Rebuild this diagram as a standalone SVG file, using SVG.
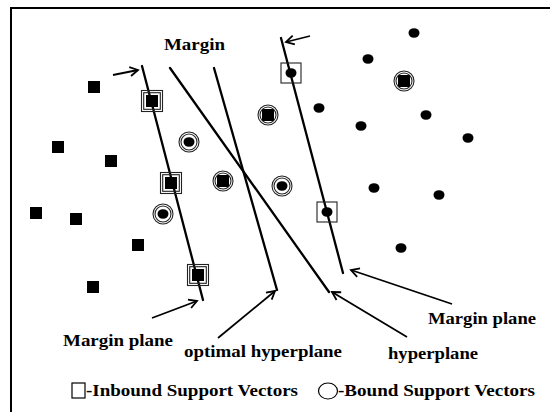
<svg xmlns="http://www.w3.org/2000/svg" width="550" height="412" viewBox="0 0 550 412">
<style>
.lbl{font-family:"Liberation Serif","Times New Roman",serif;font-weight:bold;font-size:16px;fill:#000}
.ln{stroke:#000;stroke-width:2.3;fill:none;stroke-linecap:round}
.ar{stroke:#000;stroke-width:1.8;fill:none;marker-end:url(#ah)}
.sq{fill:#000}
.bx{fill:none;stroke:#222;stroke-width:1.1}
.dot{fill:#000}
</style>
<defs>
<marker id="ah" markerWidth="12" markerHeight="12" refX="10" refY="6" orient="auto" markerUnits="userSpaceOnUse">
<path d="M2,1.5 L10,6 L2,10.5" fill="none" stroke="#000" stroke-width="1.8"/>
</marker>
<g id="fsq"><rect x="-6" y="-6" width="12" height="12"/></g>
<g id="fdot"><ellipse cx="0" cy="0" rx="5.5" ry="4.8"/></g>
<g id="dbox"><rect x="-10.5" y="-10.5" width="21" height="21" class="bx"/><rect x="-8.3" y="-8.3" width="16.6" height="16.6" class="bx"/></g>
<g id="sbox"><rect x="-10" y="-10" width="20" height="20" class="bx"/></g>
<g id="dcirc"><circle r="10" class="bx"/><circle r="8" class="bx"/></g>
</defs>
<rect width="550" height="412" fill="#fff"/>
<g id="frame" stroke="#000" stroke-width="2" fill="none">
<path d="M11,412 L11,8 L550,8"/>
</g>
<g id="connectors">
<line id="left-margin-plane" class="ln" x1="142" y1="66" x2="203" y2="300"/>
<line id="hyperplane" class="ln" x1="170" y1="68" x2="329" y2="292"/>
<line id="optimal-hyperplane" class="ln" x1="214" y1="68" x2="277" y2="290"/>
<line id="right-margin-plane" class="ln" x1="281" y1="38" x2="343" y2="273"/>
<line class="ar" x1="113" y1="75" x2="138" y2="70"/>
<line class="ar" x1="310" y1="36" x2="286" y2="42"/>
<line class="ar" x1="152" y1="318" x2="197" y2="301"/>
<line class="ar" x1="218" y1="338" x2="275" y2="291"/>
<line class="ar" x1="407" y1="337" x2="332" y2="292"/>
<line class="ar" x1="452" y1="304" x2="351" y2="270"/>
</g>
<g id="class-squares" class="sq">
<use href="#fsq" x="94" y="87"/>
<use href="#fsq" x="58" y="147"/>
<use href="#fsq" x="111" y="161"/>
<use href="#fsq" x="36" y="213"/>
<use href="#fsq" x="76" y="219"/>
<use href="#fsq" x="138" y="245"/>
<use href="#fsq" x="93" y="287"/>
</g>
<g id="inbound-squares">
<use href="#fsq" x="152" y="101"/><use href="#dbox" x="152" y="101"/>
<use href="#fsq" x="171" y="183"/><use href="#dbox" x="171" y="183"/>
<use href="#fsq" x="198" y="275"/><use href="#dbox" x="198" y="275"/>
</g>
<g id="bound-squares">
<use href="#fsq" x="223" y="181"/><use href="#dcirc" x="223" y="181"/>
<use href="#fsq" x="268" y="115"/><use href="#dcirc" x="268" y="115"/>
<use href="#fsq" x="404" y="81"/><use href="#dcirc" x="404" y="81"/>
</g>
<g id="bound-dots">
<use href="#fdot" x="189" y="142"/><use href="#dcirc" x="189" y="142"/>
<use href="#fdot" x="163" y="214"/><use href="#dcirc" x="163" y="214"/>
<use href="#fdot" x="282" y="186"/><use href="#dcirc" x="282" y="186"/>
</g>
<g id="inbound-dots">
<use href="#fdot" x="291" y="73"/><use href="#sbox" x="291" y="73"/>
<use href="#fdot" x="327" y="212"/><use href="#sbox" x="327" y="212"/>
</g>
<g id="class-dots">
<use href="#fdot" x="414" y="33"/>
<use href="#fdot" x="368" y="59"/>
<use href="#fdot" x="319" y="108"/>
<use href="#fdot" x="426" y="115"/>
<use href="#fdot" x="361" y="126"/>
<use href="#fdot" x="468" y="138"/>
<use href="#fdot" x="374" y="188"/>
<use href="#fdot" x="439" y="195"/>
<use href="#fdot" x="401" y="248"/>
</g>
<g id="labels">
<text class="lbl" x="164" y="50" textLength="61" lengthAdjust="spacingAndGlyphs">Margin</text>
<text class="lbl" x="63" y="346" textLength="110" lengthAdjust="spacingAndGlyphs">Margin plane</text>
<text class="lbl" x="184" y="357" textLength="158" lengthAdjust="spacingAndGlyphs">optimal hyperplane</text>
<text class="lbl" x="388" y="359" textLength="90" lengthAdjust="spacingAndGlyphs">hyperplane</text>
<text class="lbl" x="428" y="324" textLength="108" lengthAdjust="spacingAndGlyphs">Margin plane</text>
</g>
<g id="legend">
<rect x="72" y="383" width="13" height="15" fill="none" stroke="#000" stroke-width="1.2"/>
<text class="lbl" x="86" y="396" textLength="212" lengthAdjust="spacingAndGlyphs">-Inbound Support Vectors</text>
<ellipse cx="328" cy="391" rx="9.5" ry="8" fill="none" stroke="#000" stroke-width="1.2"/>
<text class="lbl" x="338" y="396" textLength="197" lengthAdjust="spacingAndGlyphs">-Bound Support Vectors</text>
</g>
</svg>
